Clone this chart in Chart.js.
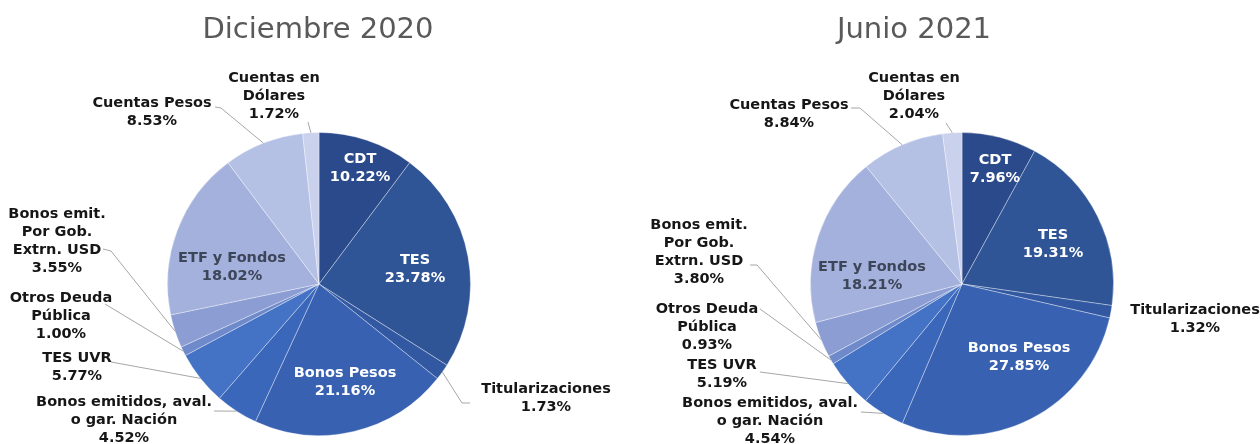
<!DOCTYPE html>
<html>
<head>
<meta charset="utf-8">
<script src="https://cdn.jsdelivr.net/npm/chart.js@4.4.1/dist/chart.umd.min.js"></script>
<style>
  html, body { margin: 0; padding: 0; background: #fff; }
  .wrap { position: absolute; top: 0; width: 630px; height: 444px; }
</style>
</head>
<body>
<div class="wrap" style="left:0"><canvas id="dec2020" width="630" height="444"></canvas></div>
<div class="wrap" style="left:630px"><canvas id="jun2021" width="630" height="444"></canvas></div>
<script>
// categories, clockwise from 12 o'clock (each entry = label lines)
const categories = [
    ['CDT'],
    ['TES'],
    ['Titularizaciones'],
    ['Bonos Pesos'],
    ['Bonos emitidos, aval.', 'o gar. Nación'],
    ['TES UVR'],
    ['Otros Deuda', 'Pública'],
    ['Bonos emit.', 'Por Gob.', 'Extrn. USD'],
    ['ETF y Fondos'],
    ['Cuentas Pesos'],
    ['Cuentas en', 'Dólares']
];
const chartTitles = ['Diciembre 2020', 'Junio 2021'];

// share of portfolio, %
const dec2020 = [10.22, 23.78, 1.73, 21.16, 4.52, 5.77, 1.00, 3.55, 18.02, 8.53, 1.72];
const jun2021 = [7.96, 19.31, 1.32, 27.85, 4.54, 5.19, 0.93, 3.80, 18.21, 8.84, 2.04];

const sliceColors = ['#2b4a8b', '#2f5597', '#3158a0', '#3862b1', '#3b67ba', '#4472c4',
                     '#6f8acb', '#8b9dd3', '#a3b1dc', '#b5c0e5', '#c9d1ed'];

// label placement, offsets from pie centre (px)
const WHITE = '#ffffff', DARK = '#161616', ETF = '#3d4558';
const decLayout = [
    { dx: 41, dy: -125, color: WHITE },
    { dx: 96, dy: -24, color: WHITE },
    { dx: 227, dy: 105, color: DARK, leader: [[151, 119], [143, 119]] },
    { dx: 26, dy: 89, color: WHITE },
    { dx: -195, dy: 118, color: DARK, leader: [[-105, 127]] },
    { dx: -242, dy: 74, color: DARK, leader: [[-208, 78]] },
    { dx: -258, dy: 14, color: DARK, leader: [[-214, 20]] },
    { dx: -262, dy: -70, color: DARK, leader: [[-216, -35], [-208, -33]] },
    { dx: -87, dy: -26, color: ETF },
    { dx: -167, dy: -181, color: DARK, leader: [[-104, -177], [-98, -176]] },
    { dx: -45, dy: -206, color: DARK, leader: [[-11, -162]] }
];
const junLayout = [
    { dx: 33, dy: -124, color: WHITE },
    { dx: 91, dy: -49, color: WHITE },
    { dx: 233, dy: 26, color: DARK },
    { dx: 57, dy: 64, color: WHITE },
    { dx: -192, dy: 119, color: DARK, leader: [[-101, 128]] },
    { dx: -240, dy: 81, color: DARK, leader: [[-202, 88]] },
    { dx: -255, dy: 25, color: DARK, leader: [[-202, 25]] },
    { dx: -263, dy: -59, color: DARK, leader: [[-212, -19], [-205, -19]] },
    { dx: -90, dy: -17, color: ETF },
    { dx: -173, dy: -179, color: DARK, leader: [[-111, -176], [-102, -176]] },
    { dx: -48, dy: -206, color: DARK, leader: [[-16, -161]] }
];

const pieLabels = {
    id: 'pieLabels',
    afterDatasetsDraw(chart, args, opts) {
        const ctx = chart.ctx;
        const arcs = chart.getDatasetMeta(0).data;
        const values = chart.data.datasets[0].data;
        ctx.save();
        arcs.forEach((arc, i) => {
            const p = opts.layout[i];
            const cx = arc.x, cy = arc.y;
            if (p.leader) {
                const mid = (arc.startAngle + arc.endAngle) / 2;
                const r = arc.outerRadius;
                ctx.strokeStyle = '#a6a6a6';
                ctx.lineWidth = 1;
                ctx.beginPath();
                p.leader.forEach((pt, k) => {
                    if (k === 0) ctx.moveTo(cx + pt[0], cy + pt[1]);
                    else ctx.lineTo(cx + pt[0], cy + pt[1]);
                });
                ctx.lineTo(cx + Math.cos(mid) * r, cy + Math.sin(mid) * r);
                ctx.stroke();
            }
            const lines = chart.data.labels[i].concat(values[i].toFixed(2) + '%');
            ctx.font = 'bold 14.5px "DejaVu Sans"';
            ctx.textAlign = 'center';
            ctx.textBaseline = 'middle';
            ctx.fillStyle = p.color;
            lines.forEach((t, k) => ctx.fillText(t, cx + p.dx, cy + p.dy + k * 18));
        });
        // chart title
        ctx.font = '29px "DejaVu Sans"';
        ctx.fillStyle = '#595959';
        ctx.textAlign = 'center';
        ctx.textBaseline = 'alphabetic';
        ctx.fillText(opts.title, opts.titleX, 38);
        ctx.restore();
    }
};

function makePie(id, values, layout, title, titleX, pad) {
    return new Chart(document.getElementById(id), {
        type: 'pie',
        data: {
            labels: categories,
            datasets: [{
                data: values,
                backgroundColor: sliceColors,
                borderColor: 'rgba(255, 255, 255, 0.35)',
                borderWidth: 1
            }]
        },
        options: {
            responsive: false,
            animation: false,
            layout: { padding: pad },
            plugins: {
                legend: { display: false },
                tooltip: { enabled: false },
                pieLabels: { layout: layout, title: title, titleX: titleX }
            }
        },
        plugins: [pieLabels]
    });
}

makePie('dec2020', dec2020, decLayout, chartTitles[0], 318, { left: 167, right: 159, top: 132, bottom: 8 });
makePie('jun2021', jun2021, junLayout, chartTitles[1], 284, { left: 180, right: 146, top: 132, bottom: 8 });
</script>
</body>
</html>
